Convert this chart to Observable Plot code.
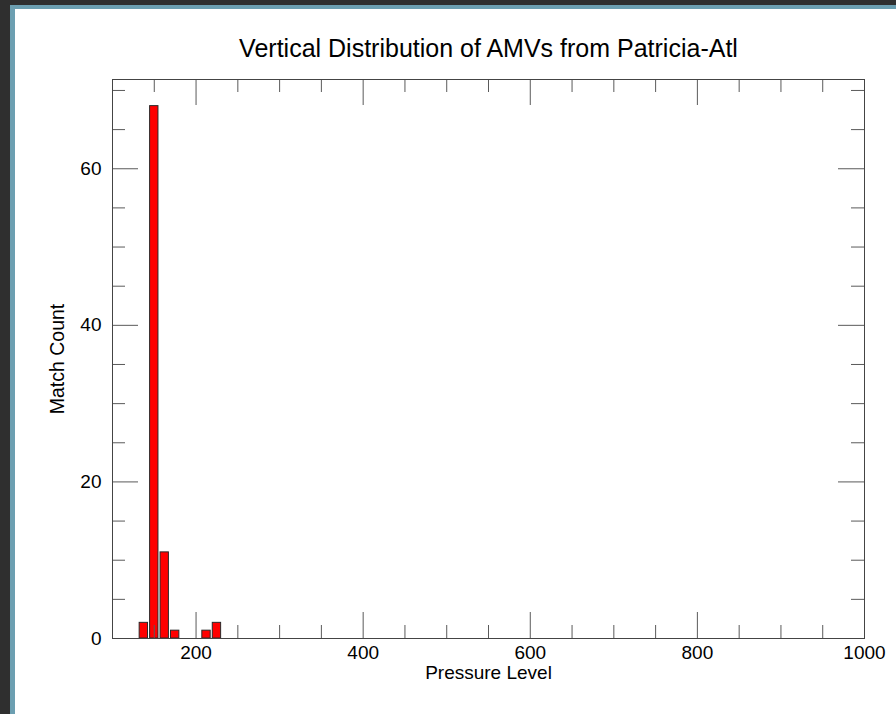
<!DOCTYPE html>
<html>
<head>
<meta charset="utf-8">
<script src="https://cdn.jsdelivr.net/npm/d3@7"></script>
<script src="https://cdn.jsdelivr.net/npm/@observablehq/plot@0.6"></script>
<style>
  html, body { margin: 0; padding: 0; background: #2f2f2f; width: 896px; height: 714px; overflow: hidden; }
  #border { position: absolute; left: 10px; top: 5px; width: 886px; height: 709px; background: #6c9fb1; }
  #chart { position: absolute; left: 15px; top: 9px; width: 881px; height: 705px; background: #fff; }
</style>
</head>
<body>
<div id="border"></div>
<div id="chart"></div>
<script>
// Data
const levels = [137.5, 150, 162.5, 175, 212.5, 225];
const counts = [2, 68, 11, 1, 1, 2];
const xMajorTicks = [200, 400, 600, 800, 1000];
const xMinorTicks = [150, 250, 300, 350, 450, 500, 550, 650, 700, 750, 850, 900, 950];
const yMajorTicks = [0, 20, 40, 60];
const yMinorTicks = [5, 10, 15, 25, 30, 35, 45, 50, 55, 65, 70];
const titleText = "Vertical Distribution of AMVs from Patricia-Atl";
const xLabel = "Pressure Level";
const yLabel = "Match Count";

const bars = levels.map((level, i) => ({level, count: counts[i]}));

const W = 881, H = 705;
const mL = 97, mR = 32, mT = 70, mB = 76;
const fw = W - mL - mR, fh = H - mT - mB;
const majorLen = 26, minorLen = 13;
const tickColor = "#5a5a5a";

const chart = Plot.plot({
  width: W, height: H,
  marginLeft: mL, marginRight: mR, marginTop: mT, marginBottom: mB,
  x: {domain: [100, 1000]},
  y: {domain: [0, 71.4]},
  style: {background: "white", fontFamily: "'Liberation Sans', Arial, sans-serif", color: "black", overflow: "visible"},
  marks: [
    Plot.rectY(bars, {x1: d => d.level - 5, x2: d => d.level + 5, y: "count", fill: "#ff0000", stroke: "#2a2a2a", strokeWidth: 1}),
    // bottom ticks
    Plot.tickX(xMajorTicks, {x: d => d, insetTop: fh - majorLen, stroke: tickColor}),
    Plot.tickX(xMinorTicks, {x: d => d, insetTop: fh - minorLen, stroke: tickColor}),
    // top ticks
    Plot.tickX(xMajorTicks, {x: d => d, insetBottom: fh - majorLen, stroke: tickColor}),
    Plot.tickX(xMinorTicks, {x: d => d, insetBottom: fh - minorLen, stroke: tickColor}),
    // left ticks
    Plot.tickY(yMajorTicks, {y: d => d, insetRight: fw - majorLen, stroke: tickColor}),
    Plot.tickY(yMinorTicks, {y: d => d, insetRight: fw - minorLen, stroke: tickColor}),
    // right ticks
    Plot.tickY(yMajorTicks, {y: d => d, insetLeft: fw - majorLen, stroke: tickColor}),
    Plot.tickY(yMinorTicks, {y: d => d, insetLeft: fw - minorLen, stroke: tickColor}),
    Plot.frame({stroke: "#444"}),
    Plot.axisX(xMajorTicks, {anchor: "bottom", tickSize: 0, tickPadding: 7, fontSize: 19, tickFormat: d => String(d), label: null}),
    Plot.axisY(yMajorTicks, {anchor: "left", tickSize: 0, tickPadding: 11, fontSize: 19, tickFormat: d => String(d), label: null}),
    Plot.text([titleText], {frameAnchor: "top", text: d => d, lineAnchor: "bottom", dy: -23, fontSize: 25, fill: "black"}),
    Plot.text([xLabel], {frameAnchor: "bottom", text: d => d, lineAnchor: "bottom", dy: 40, fontSize: 19, fill: "black"}),
    Plot.text([yLabel], {frameAnchor: "left", text: d => d, textAnchor: "middle", lineAnchor: "bottom", rotate: -90, dx: -49, fontSize: 19.5, fill: "black"})
  ]
});
document.getElementById("chart").appendChild(chart);
</script>
</body>
</html>
